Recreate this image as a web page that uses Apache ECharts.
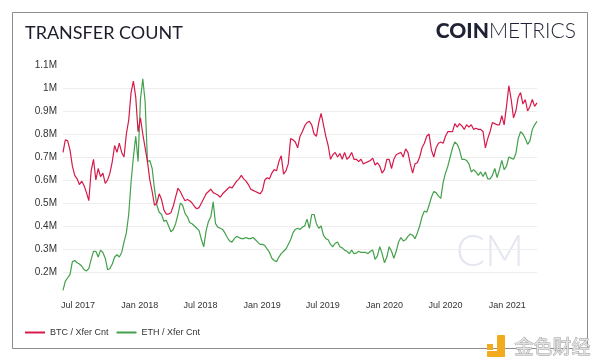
<!DOCTYPE html>
<html>
<head>
<meta charset="utf-8">
<script src="https://cdn.jsdelivr.net/npm/echarts@6/dist/echarts.min.js"></script>
<style>
html,body{margin:0;padding:0;background:#fff;}
#chart{width:600px;height:362px;}
</style>
</head>
<body>
<div id="chart"></div>
<script>
// Weekly samples, values in millions of transfers
const START_DATE = [2017, 4, 17]; // 2017-05-17
const STEP_DAYS = 7;

const btcXferCnt = [
  0.72,0.775,0.77,0.73,0.66,0.62,0.605,0.58,0.595,0.575,
  0.545,0.51,0.64,0.69,0.60,0.65,0.615,0.63,0.585,0.60,
  0.63,0.68,0.75,0.72,0.76,0.72,0.70,0.80,0.86,0.98,
  1.03,0.96,0.81,0.87,0.80,0.74,0.68,0.60,0.55,0.49,
  0.50,0.54,0.515,0.47,0.452,0.452,0.458,0.487,0.527,0.564,
  0.55,0.528,0.51,0.515,0.51,0.50,0.485,0.475,0.48,0.50,
  0.52,0.54,0.55,0.56,0.545,0.54,0.535,0.525,0.54,0.55,
  0.56,0.57,0.565,0.58,0.595,0.605,0.62,0.605,0.595,0.58,
  0.56,0.555,0.55,0.545,0.54,0.555,0.60,0.61,0.605,0.63,
  0.645,0.64,0.68,0.705,0.625,0.64,0.67,0.78,0.775,0.765,
  0.74,0.79,0.81,0.835,0.85,0.855,0.84,0.80,0.79,0.85,
  0.89,0.84,0.79,0.75,0.69,0.71,0.72,0.70,0.715,0.69,
  0.72,0.69,0.70,0.72,0.69,0.69,0.68,0.69,0.67,0.675,
  0.68,0.685,0.695,0.665,0.675,0.66,0.63,0.645,0.69,0.69,
  0.65,0.69,0.71,0.715,0.72,0.70,0.735,0.72,0.67,0.63,
  0.67,0.675,0.70,0.74,0.76,0.79,0.80,0.73,0.70,0.74,
  0.76,0.765,0.76,0.79,0.81,0.81,0.81,0.845,0.83,0.845,
  0.835,0.82,0.84,0.83,0.84,0.82,0.825,0.82,0.82,0.81,
  0.74,0.78,0.81,0.85,0.845,0.84,0.84,0.88,0.84,0.92,
  1.01,0.95,0.87,0.90,0.96,0.98,0.93,0.95,0.90,0.92,
  0.95,0.92,0.935
];

const ethXferCnt = [
  0.12,0.16,0.175,0.19,0.245,0.25,0.24,0.235,0.225,0.21,
  0.205,0.215,0.255,0.29,0.29,0.265,0.295,0.285,0.26,0.21,
  0.215,0.235,0.265,0.275,0.265,0.285,0.33,0.37,0.45,0.59,
  0.70,0.79,0.68,0.95,1.04,0.94,0.68,0.685,0.65,0.56,
  0.49,0.46,0.45,0.42,0.425,0.40,0.375,0.385,0.41,0.45,
  0.50,0.49,0.455,0.44,0.415,0.41,0.40,0.39,0.38,0.34,
  0.31,0.38,0.42,0.44,0.505,0.41,0.395,0.39,0.385,0.37,
  0.35,0.335,0.33,0.345,0.355,0.35,0.345,0.345,0.35,0.345,
  0.345,0.35,0.34,0.33,0.32,0.32,0.315,0.30,0.285,0.26,
  0.25,0.245,0.265,0.28,0.29,0.30,0.32,0.34,0.37,0.385,
  0.39,0.385,0.395,0.40,0.43,0.39,0.45,0.45,0.41,0.39,
  0.40,0.36,0.345,0.34,0.32,0.31,0.325,0.33,0.31,0.305,
  0.295,0.29,0.28,0.295,0.28,0.282,0.29,0.285,0.285,0.285,
  0.28,0.29,0.295,0.255,0.27,0.31,0.28,0.24,0.265,0.31,
  0.29,0.26,0.29,0.33,0.35,0.335,0.34,0.355,0.365,0.36,
  0.345,0.37,0.40,0.44,0.465,0.46,0.49,0.525,0.55,0.545,
  0.53,0.52,0.59,0.63,0.66,0.70,0.74,0.765,0.755,0.73,
  0.69,0.69,0.685,0.67,0.635,0.645,0.635,0.62,0.635,0.615,
  0.635,0.605,0.605,0.62,0.65,0.61,0.645,0.685,0.645,0.66,
  0.70,0.695,0.69,0.715,0.78,0.81,0.80,0.78,0.755,0.77,
  0.82,0.84,0.855
];

const seriesNames = ['BTC / Xfer Cnt', 'ETH / Xfer Cnt'];
const monthNames = ['Jan','Feb','Mar','Apr','May','Jun','Jul','Aug','Sep','Oct','Nov','Dec'];
const labelledMonths = [0, 6]; // Jan and Jul

function pad(n){ return n < 10 ? '0' + n : '' + n; }
const dates = btcXferCnt.map(function(_, i){
  const d = new Date(Date.UTC(START_DATE[0], START_DATE[1], START_DATE[2]) + i * STEP_DAYS * 86400000);
  return d.getUTCFullYear() + '-' + pad(d.getUTCMonth() + 1) + '-' + pad(d.getUTCDate());
});

const chart = echarts.init(document.getElementById('chart'), null, {renderer: 'canvas'});
chart.setOption({
  animation: false,
  backgroundColor: '#ffffff',
  title: {
    text: 'TRANSFER COUNT',
    left: 20,
    top: 19,
    textStyle: {fontFamily: 'Lato', fontSize: 18, fontWeight: 'normal', color: '#1c1d2b'}
  },
  graphic: [
    {type: 'rect', shape: {x: 12.5, y: 12.5, width: 575, height: 336},
     style: {fill: 'none', stroke: '#8c8c8c', lineWidth: 1}, silent: true, z: -1},
    {type: 'text', right: 24, top: 21,
     style: {text: '{a|COIN}{b|METRICS}', rich: {
       a: {fontFamily: 'Lato', fontWeight: 900, fontSize: 21, fill: '#1f2235'},
       b: {fontFamily: 'Lato', fontWeight: 300, fontSize: 21, fill: '#1f2235'}
     }}},
    {type: 'text', left: 456, top: 231, z: 0,
     style: {text: 'CM', fontFamily: 'Lato', fontWeight: 300, fontSize: 43, fill: '#e4e6f0'}},
    {type: 'group', left: 487, top: 335, z: 100, children: [
      {type: 'rect', shape: {x: 0, y: 9, width: 6, height: 6}, style: {fill: '#f2ab1c'}},
      {type: 'rect', shape: {x: 10, y: 0, width: 8, height: 22, r: 1}, style: {fill: '#f2ab1c'}},
      {type: 'rect', shape: {x: 0, y: 16, width: 18, height: 6, r: 1}, style: {fill: '#f2ab1c'}}
    ]},
    {type: 'text', left: 514, top: 337, z: 100,
     style: {text: '金色财经', fontFamily: 'Noto Sans CJK SC', fontSize: 19, fill: '#e2e2e2', stroke: '#9a9a9a', lineWidth: 0.8}}
  ],
  legend: {
    data: seriesNames,
    left: 20,
    top: 323,
    icon: 'rect',
    itemWidth: 20,
    itemHeight: 2,
    itemGap: 8,
    textStyle: {fontFamily: 'Liberation Sans', fontSize: 9, color: '#333'}
  },
  grid: {left: 63, right: 63, top: 65, bottom: 67, containLabel: false},
  xAxis: {
    type: 'time',
    min: dates[0],
    max: dates[dates.length - 1],
    axisLine: {show: false},
    axisTick: {show: false},
    splitLine: {show: false},
    axisLabel: {
      margin: 6,
      hideOverlap: false,
      fontFamily: 'Liberation Sans',
      fontSize: 9,
      color: '#333',
      formatter: function (val) {
        const d = new Date(val);
        if (labelledMonths.indexOf(d.getMonth()) < 0 || d.getDate() !== 1) return '';
        return monthNames[d.getMonth()] + ' ' + d.getFullYear();
      }
    }
  },
  yAxis: {
    type: 'value',
    min: 0.1,
    max: 1.1,
    interval: 0.1,
    axisLine: {show: false},
    axisTick: {show: false},
    axisLabel: {
      margin: 6,
      showMinLabel: false,
      fontFamily: 'Liberation Sans',
      fontSize: 10,
      color: '#333',
      formatter: function (v) { return (Math.round(v * 10) / 10) + 'M'; }
    },
    splitLine: {show: true, showMinLine: false, showMaxLine: false, lineStyle: {color: '#eeeeee', width: 1}}
  },
  series: [
    {name: seriesNames[0], type: 'line', showSymbol: false, symbol: 'none',
     data: dates.map(function(d, i){ return [d, btcXferCnt[i]]; }),
     lineStyle: {color: '#d61a4b', width: 1.2}, itemStyle: {color: '#d61a4b'}, z: 3},
    {name: seriesNames[1], type: 'line', showSymbol: false, symbol: 'none',
     data: dates.map(function(d, i){ return [d, ethXferCnt[i]]; }),
     lineStyle: {color: '#43a04b', width: 1.2}, itemStyle: {color: '#43a04b'}, z: 2}
  ]
});
</script>
</body>
</html>
